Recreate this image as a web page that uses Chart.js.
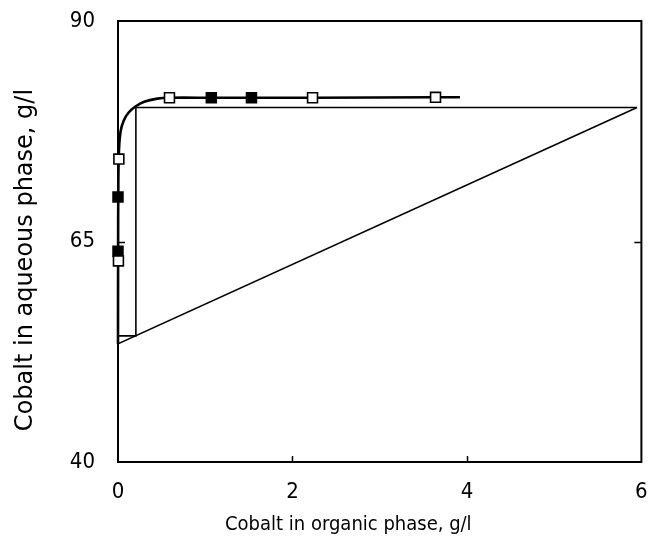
<!DOCTYPE html>
<html><head><meta charset="utf-8">
<script src="https://cdn.jsdelivr.net/npm/chart.js@4/dist/chart.umd.min.js"></script>
<style>html,body{margin:0;padding:0;background:#fff;}#wrap{width:650px;height:554px;}</style>
</head><body><div id="wrap"><canvas id="c" width="650" height="554"></canvas></div>
<script>
// ---- data ----
const xTickValues = [0, 2, 4, 6];
const yTickValues = [40, 65, 90];
const xTitle = 'Cobalt in organic phase, g/l';
const yTitle = 'Cobalt in aqueous phase, g/l';
// equilibrium curve
const curveX = [0, 0.001, 0.004, 0.012, 0.03, 0.065, 0.12, 0.2, 0.3, 0.45, 0.59, 1.07, 1.53, 2.23, 3.64, 3.92];
const curveY = [53.4, 62.8, 72.0, 75.5, 77.5, 78.7, 79.6, 80.3, 80.85, 81.2, 81.3, 81.3, 81.3, 81.3, 81.35, 81.35];
// open squares
const openX = [0.01, 0.005, 0.59, 2.23, 3.64];
const openY = [74.35, 62.8, 81.3, 81.3, 81.35];
// filled squares
const filledX = [0, 0, 1.07, 1.53];
const filledY = [70.05, 63.9, 81.3, 81.3];
// operating line
const opX = [0, 5.95];
const opY = [53.4, 80.2];
// stage construction
const stepX = [0, 0.205, 0.205, 5.95];
const stepY = [54.3, 54.3, 80.2, 80.2];

const pts = (xs, ys) => xs.map((v, i) => ({x: v, y: ys[i]}));
const tickFont = {family: "'Liberation Sans Narrow', 'DejaVu Sans Condensed', sans-serif", size: 22};
const noPad = s => { s.paddingTop = 0; s.paddingBottom = 0; s.paddingLeft = 0; s.paddingRight = 0; };

const framePlugin = {
  id: 'frame',
  beforeDatasetsDraw(chart) {
    const {ctx, chartArea: a, scales: {x, y}} = chart;
    ctx.save();
    ctx.strokeStyle = '#000';
    ctx.lineWidth = 2;
    ctx.strokeRect(a.left, a.top, a.right - a.left, a.bottom - a.top);
    ctx.lineWidth = 1.5;
    ctx.beginPath();
    xTickValues.slice(1, -1).forEach(v => {
      const px = Math.round(x.getPixelForValue(v)) + 0.5;
      ctx.moveTo(px, a.bottom); ctx.lineTo(px, a.bottom - 6);
    });
    yTickValues.slice(1, -1).forEach(v => {
      const py = Math.round(y.getPixelForValue(v)) + 0.5;
      ctx.moveTo(a.left, py); ctx.lineTo(a.left + 7, py);
      ctx.moveTo(a.right, py); ctx.lineTo(a.right - 7, py);
    });
    ctx.stroke();
    ctx.restore();
  },
  afterDraw(chart) {
    const {ctx, chartArea: a} = chart;
    ctx.save();
    ctx.fillStyle = '#000';
    ctx.textAlign = 'center';
    ctx.textBaseline = 'middle';
    ctx.font = "20px 'Liberation Sans Narrow', 'DejaVu Sans Condensed', sans-serif";
    ctx.fillText(xTitle, a.left + (a.right - a.left) * 0.44, a.bottom + 63);
    ctx.translate(a.left - 92, a.top + (a.bottom - a.top) * 0.542);
    ctx.rotate(-Math.PI / 2);
    ctx.font = "24px 'DejaVu Sans', sans-serif";
    ctx.fillText(yTitle, 0, 0);
    ctx.restore();
  }
};

new Chart(document.getElementById('c'), {
  type: 'scatter',
  data: {
    datasets: [
      {data: pts(openX, openY), pointStyle: 'rect', pointRadius: 7, pointHoverRadius: 7,
       backgroundColor: '#fff', borderColor: '#000', borderWidth: 1.6, showLine: false, clip: false, order: 0},
      {data: pts(filledX, filledY), pointStyle: 'rect', pointRadius: 7, pointHoverRadius: 7,
       backgroundColor: '#000', borderColor: '#000', borderWidth: 1.6, showLine: false, clip: false, order: 1},
      {data: pts(curveX, curveY), showLine: true, pointRadius: 0, borderColor: '#000', borderWidth: 2.6,
       tension: 0.3, fill: false, clip: false, order: 2},
      {data: pts(opX, opY), showLine: true, pointRadius: 0, borderColor: '#000', borderWidth: 1.6, order: 3},
      {data: pts(stepX, stepY), showLine: true, pointRadius: 0, borderColor: '#000', borderWidth: 1.6, order: 4}
    ]
  },
  options: {
    responsive: false,
    animation: false,
    events: [],
    layout: {padding: {top: 21, right: 6, left: 0, bottom: 0}},
    plugins: {legend: {display: false}, tooltip: {enabled: false}},
    scales: {
      x: {
        type: 'linear', min: 0, max: 6,
        afterBuildTicks: s => { s.ticks = xTickValues.map(v => ({value: v})); },
        afterFit: s => { s.height = 92; noPad(s); },
        grid: {display: false, drawTicks: false},
        border: {display: false},
        ticks: {color: '#000', font: tickFont, padding: 17, maxRotation: 0, autoSkip: false}
      },
      y: {
        type: 'linear', min: 40, max: 90,
        afterBuildTicks: s => { s.ticks = yTickValues.map(v => ({value: v})); },
        afterFit: s => { s.width = 118; noPad(s); },
        grid: {display: false, drawTicks: false},
        border: {display: false},
        ticks: {color: '#000', font: tickFont, padding: 23, autoSkip: false}
      }
    }
  },
  plugins: [framePlugin]
});
</script></body></html>
